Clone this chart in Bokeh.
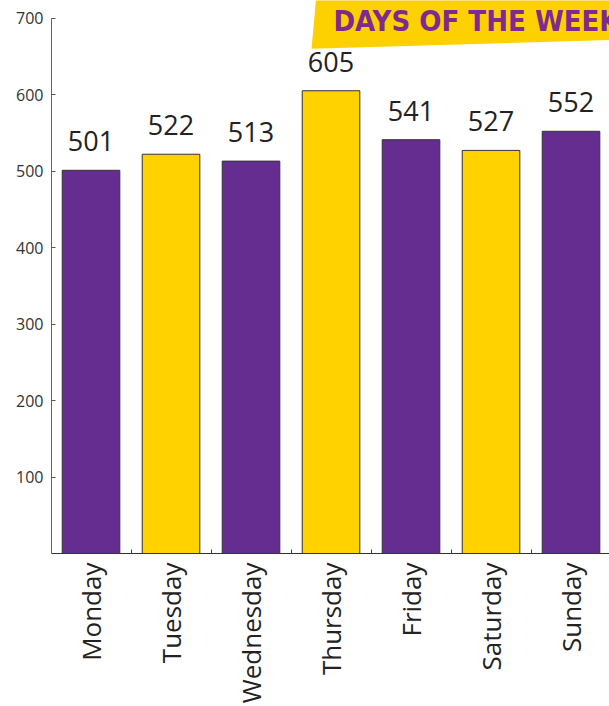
from bokeh.plotting import figure
from bokeh.models import Range1d, FixedTicker, ColumnDataSource, Label
from bokeh.core.properties import value
from bokeh.embed import file_html
from bokeh.resources import INLINE

days = ["Monday", "Tuesday", "Wednesday", "Thursday", "Friday", "Saturday", "Sunday"]
counts = [501, 522, 513, 605, 541, 527, 552]
bar_colors = ["#652D90", "#FFD200", "#652D90", "#FFD200", "#652D90", "#FFD200", "#652D90"]
y_ticks = [100, 200, 300, 400, 500, 600, 700]
title_text = "DAYS OF THE WEEK"

idx = list(range(len(days)))
src = ColumnDataSource(dict(x=idx, top=counts, color=bar_colors,
                            label=[str(c) for c in counts]))

p = figure(width=609, height=706, output_backend="svg", toolbar_location=None,
           x_range=Range1d(-0.494, 6.481), y_range=Range1d(0, 723),
           min_border_left=51, min_border_right=0, min_border_top=0, min_border_bottom=153)
p.outline_line_color = None
p.grid.visible = False
p.background_fill_color = "white"
p.border_fill_color = "white"

p.vbar(x="x", top="top", bottom=0, width=0.72, fill_color="color",
       line_color="#333333", line_width=1, source=src)

p.text(x="x", y="top", text="label", source=src, text_align="center",
       text_baseline="alphabetic", y_offset=-29, text_font=value("Open Sans"),
       text_font_size="27px", text_color="#222222")

# banner
p.patch([2.756, 2.844, 6.7, 6.7], [660, 760, 760, 672], fill_color="#FDD000", line_color=None)
p.add_layout(Label(x=3.03, y=696, text=title_text, text_font="DejaVu Sans Condensed, Liberation Sans Narrow, Roboto",
                   text_font_style="bold", text_font_size="29px", text_color="#7F2A8E",
                   text_baseline="alphabetic"))

xa = p.xaxis[0]
xa.ticker = FixedTicker(ticks=idx, minor_ticks=[i + 0.5 for i in idx[:-1]])
xa.major_label_overrides = {i: d for i, d in zip(idx, days)}
xa.major_label_orientation = 1.5708
xa.major_tick_in = 0
xa.major_tick_out = 0
xa.minor_tick_in = 4
xa.minor_tick_out = 0
xa.minor_tick_line_color = "#444444"
xa.axis_line_color = "#333333"
xa.major_label_text_font = "Open Sans"
xa.major_label_text_font_size = "26px"
xa.major_label_text_color = "#222222"
xa.major_label_standoff = 9

ya = p.yaxis[0]
ya.ticker = FixedTicker(ticks=y_ticks, minor_ticks=[])
ya.bounds = (0, 700)
ya.major_tick_in = 4
ya.major_tick_out = 0
ya.major_tick_line_color = "#555555"
ya.axis_line_color = "#666666"
ya.major_label_text_font = "Open Sans"
ya.major_label_text_font_size = "16px"
ya.major_label_text_color = "#333333"
ya.major_label_standoff = 8

open("out.html", "w").write(file_html(p, INLINE))
